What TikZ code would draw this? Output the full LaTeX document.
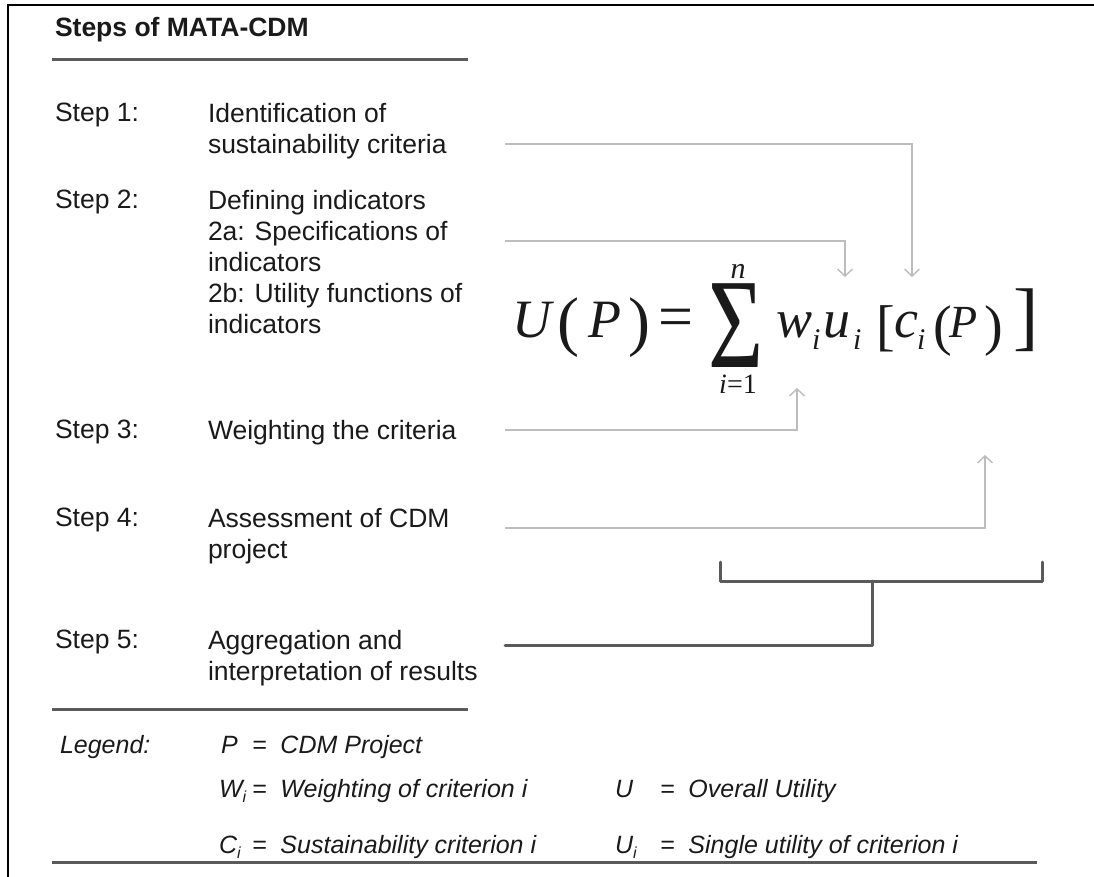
\documentclass[tikz,border=0pt]{standalone}
\usepackage{fontspec}
\setmainfont{Liberation Sans}
\newfontfamily\tms{Liberation Serif}
\usetikzlibrary{arrows.meta}
\definecolor{txt}{HTML}{1A1A1A}
\definecolor{lightln}{HTML}{BDBDBD}
\definecolor{darkln}{HTML}{5A5A5A}
\newcommand{\fsz}[1]{\fontsize{#1}{#1}\selectfont}
\begin{document}
\begin{tikzpicture}[x=1pt,y=-1pt,
  every node/.style={inner sep=0pt,outer sep=0pt,text=txt},
  title/.style={anchor=base west,font=\bfseries\fsz{26.5}},
  lbl/.style={anchor=north west,font=\fontsize{26.5}{31}\selectfont},
  desc/.style={anchor=north west,align=left,font=\fontsize{26.5}{31}\selectfont},
  leg/.style={anchor=base west,font=\itshape\fsz{25}},
  fit/.style={anchor=base west,font=\tms\itshape\fsz{54}},
  frm/.style={anchor=base west,font=\tms\fsz{66}},
  fsub/.style={anchor=base west,font=\tms\itshape\fsz{30}},
  rulex/.style={draw=darkln,line width=3pt},
  lightarrow/.style={draw=lightln,line width=1.4pt,-{Straight Barb[length=7pt,width=15pt,line width=1.4pt]}},
  darkline/.style={draw=darkln,line width=3pt,line cap=round,line join=round}
]
\useasboundingbox (0,0) rectangle (1094,877);
\fill[white] (0,0) rectangle (1094,877);
\draw[line width=1.6pt,black] (8,877) -- (8,5) -- (1094,5);

% title and rules
\node[title] (title) at (55,37) {Steps of MATA-CDM};
\draw[rulex] (52,60) -- (468,60);
\draw[rulex] (52,709) -- (468,709);
\draw[rulex] (52,862) -- (1037,862);

% steps
\node[lbl] (l1) at (55,103) {Step 1:};
\node[desc] (d1) at (208,103) {Identification of\\sustainability criteria};
\node[lbl] (l2) at (55,190) {Step 2:};
\node[desc] (d2) at (208,190) {Defining indicators\\2a: Specifications of\\indicators\\2b: Utility functions of\\indicators};
\node[lbl] (l3) at (55,420) {Step 3:};
\node[desc] (d3) at (208,420) {Weighting the criteria};
\node[lbl] (l4) at (55,508) {Step 4:};
\node[desc] (d4) at (208,508) {Assessment of CDM\\project};
\node[lbl] (l5) at (55,630) {Step 5:};
\node[desc] (d5) at (208,630) {Aggregation and\\interpretation of results};

% formula
\node[fit] (fU) at (512,337) {U};
\node[frm] (fLp) at (557,343) {(};
\node[fit] (fP) at (588,337) {P};
\node[frm] (fRp) at (628,343) {)};
\node[anchor=base west,font=\tms\fsz{62}] (fEq) at (658,337) {=};
\node[anchor=base,font=\tms\fsz{128},text height=85pt,text depth=0pt] (fSum) at (736,367) {\smash{\scalebox{0.74}[1]{Σ}}};
\node[anchor=base,font=\tms\itshape\fsz{30}] (fN) at (738,278) {n};
\node[anchor=base,font=\tms\fsz{28}] (fLow) at (738,393) {\textit{i}=1};
\node[fit] (fW) at (776,337) {w};
\node[fsub] (fWi) at (812,349) {i};
\node[fit] (fu) at (823,337) {u};
\node[fsub] (fUi) at (853,349) {i};
\node[anchor=base west,font=\tms\fsz{56}] (fLb) at (876,344) {[};
\node[fit] (fC) at (894,337) {c};
\node[fsub] (fCi) at (917,349) {i};
\node[anchor=base west,font=\tms\fsz{56}] (fLp2) at (933,344) {(};
\node[anchor=base west,font=\tms\itshape\fsz{46}] (fP2) at (949,337) {P};
\node[anchor=base west,font=\tms\fsz{56}] (fRp2) at (984,344) {)};
\node[anchor=base west,font=\tms\fsz{76}] (fRb) at (1013,341) {]};

% connectors
\coordinate (s1) at (505,144); \coordinate (t1) at (912,277);
\coordinate (s2) at (505,241); \coordinate (t2) at (845,277);
\coordinate (s3) at (505,430); \coordinate (t3) at (797,388);
\coordinate (s4) at (505,528); \coordinate (t4) at (985,455);
\draw[lightarrow] (s1) -| (t1);
\draw[lightarrow] (s2) -| (t2);
\draw[lightarrow] (s3) -| (t3);
\draw[lightarrow] (s4) -| (t4);
\coordinate (bl) at (720,562); \coordinate (br) at (1042,562);
\coordinate (bm) at (872,581);
\coordinate (s5) at (505,645);
\draw[darkline] (bl) |- (br |- bm) -- (br);
\draw[darkline] (s5) -| (bm);

% legend
\node[leg] (lg) at (60,753) {Legend:};
\node[leg] (lgP) at (221,753) {P};
\node[leg] (lgPd) at (252,753) {=\ \ CDM Project};
\node[leg] (lgW) at (219,797) {W{\fsz{16}\raisebox{-5pt}{i}}};
\node[leg] (lgWd) at (252,797) {=\ \ Weighting of criterion i};
\node[leg] (lgU) at (615,797) {U};
\node[leg] (lgUd) at (660,797) {=\ \ Overall Utility};
\node[leg] (lgC) at (219,853) {C{\fsz{16}\raisebox{-5pt}{i}}};
\node[leg] (lgCd) at (252,853) {=\ \ Sustainability criterion i};
\node[leg] (lgUi) at (615,853) {U{\fsz{16}\raisebox{-5pt}{i}}};
\node[leg] (lgUid) at (660,853) {=\ \ Single utility of criterion i};
\end{tikzpicture}
\end{document}
